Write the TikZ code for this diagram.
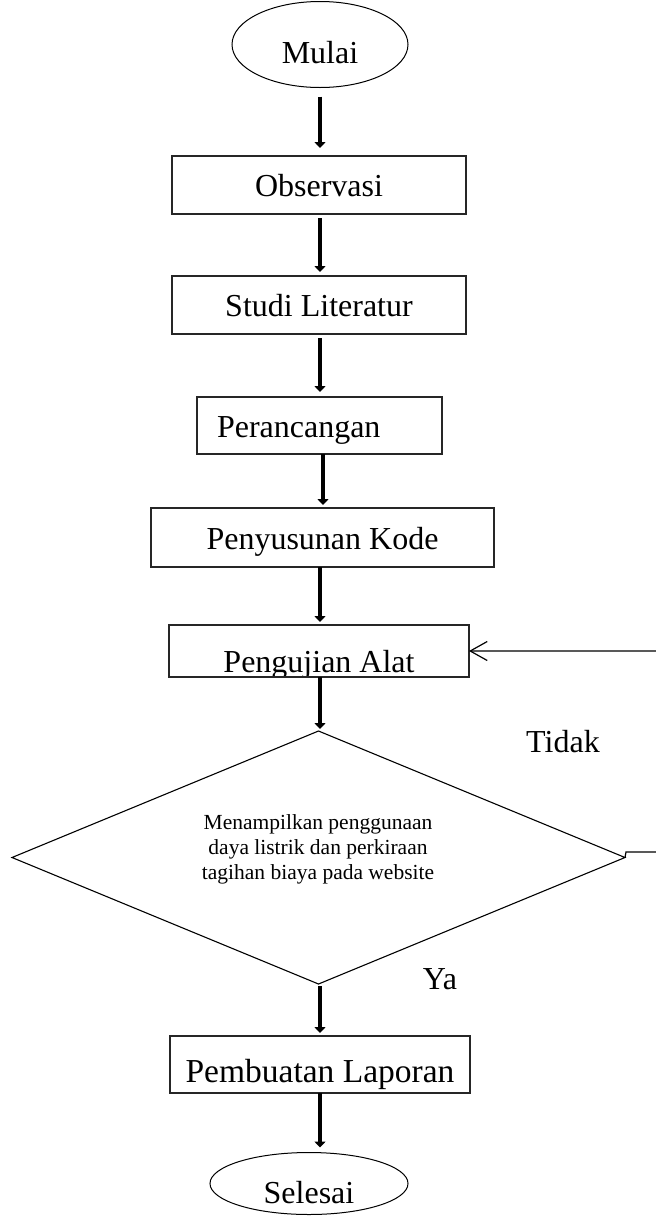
\documentclass[tikz,border=0pt]{standalone}
\usepackage{fontspec}
\setmainfont{Liberation Serif}
\usetikzlibrary{shapes.geometric,arrows.meta}

\begin{document}
\begin{tikzpicture}[x=1pt,y=-1pt,
  every node/.style={inner sep=0pt, outer sep=0pt},
  lbl/.style={font=\fontsize{32}{38}\selectfont},
  box/.style={draw=black!85, line width=1.1pt, rectangle, lbl, text height=23pt, text depth=0pt},
  term/.style={draw=black, line width=1pt, ellipse, lbl, text depth=0pt},
  flow/.style={line width=4.5pt, -{Triangle[length=6pt,width=11pt]}},
  back/.style={line width=1.2pt, -{Straight Barb[length=17pt,width=19pt,line width=1.2pt]}}
]
\useasboundingbox (0,0) rectangle (656,1216);
\fill[white] (0,0) rectangle (656,1216);

% process chain
\node[term, minimum width=176pt, minimum height=86pt, text height=37pt] (mulai) at (320,44.5) {Mulai};
\node[box, minimum width=294pt, minimum height=58pt] (obs) at (319,185) {Observasi};
\node[box, minimum width=294pt, minimum height=58pt] (studi) at (319,305) {Studi Literatur};
\node[box, minimum width=245pt, minimum height=57pt] (peran) at (319.5,425.5) {\makebox[245pt][l]{\hspace{20pt}Perancangan}};
\node[box, minimum width=343pt, minimum height=59pt] (kode) at (322.5,537.5) {Penyusunan Kode};
\node[box, minimum width=300pt, minimum height=52pt,
  path picture={\node[lbl, anchor=base] at ([yshift=5pt]path picture bounding box.south) {Pengujian Alat};}] (uji) at (319,651) {};

% decision
\node[draw=black, line width=1.1pt, diamond, aspect=2.42, minimum width=613pt, minimum height=253pt] (dia) at (318.5,857.5) {};
\node[align=center, font=\fontsize{21.5}{25.3}\selectfont] (diatext) at (318,849.3)
  {Menampilkan penggunaan\\daya listrik dan perkiraan\\tagihan biaya pada website};

\node[box, minimum width=300pt, minimum height=57pt, font=\fontsize{33.5}{40}\selectfont, text height=35pt] (lapor) at (320,1064.5) {Pembuatan Laporan};
\node[term, minimum width=198pt, minimum height=62pt, text height=40pt] (selesai) at (309,1183.5) {Selesai};

% branch labels
\node[lbl] (tidak) at (563,742) {Tidak};
\node[lbl] (ya) at (440,979) {Ya};

% flow arrows
\draw[flow, shorten <=9pt, shorten >=8pt] (mulai.south) -- (mulai.south |- obs.north);
\draw[flow, shorten <=4pt, shorten >=4pt] ([xshift=1pt]obs.south) -- ([xshift=1pt]obs.south |- studi.north);
\draw[flow, shorten <=4pt, shorten >=5pt] ([xshift=1pt]studi.south) -- ([xshift=1pt]studi.south |- peran.north);
\draw[flow, shorten >=3pt] ([xshift=3.5pt]peran.south) -- ([xshift=3.5pt]peran.south |- kode.north);
\draw[flow, shorten >=3pt] ([xshift=1pt]uji.south |- kode.south) -- ([xshift=1pt]uji.north);
\draw[flow, shorten >=2pt] ([xshift=1pt]uji.south) -- ([xshift=1pt]uji.south |- dia.north);
\draw[flow, shorten <=2pt, shorten >=3pt] ([xshift=1.5pt]dia.south) -- ([xshift=1.5pt]dia.south |- lapor.north);
\draw[flow, shorten >=5pt] (lapor.south) -- (lapor.south |- selesai.north);

% return path from the decision back to testing
\coordinate (ret) at (664,852);
\draw[back] (dia.east) -- ++(1,-5.5) -- (ret) |- (uji.east);
\end{tikzpicture}
\end{document}
